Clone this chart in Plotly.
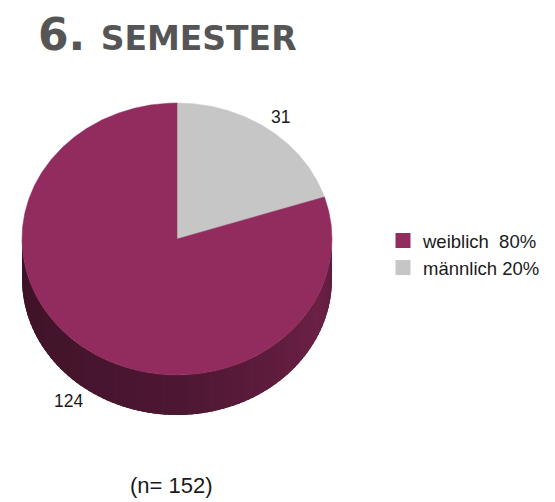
import numpy as np
import plotly.graph_objects as go

# ---- data ----
labels = ["weiblich", "männlich"]
counts = [124, 31]
shares = [80, 20]          # percent shown in the legend
spacers = ["  ", " "]      # legend spacing between name and percent
colors = ["#922c5e", "#c6c6c6"]
n_total = 152
title_num = "6."
title_word = "SEMESTER"

# ---- geometry of the tilted pie (pixel space) ----
W, H = 555, 502
CX, CY = 177, 239
RX, RY = 155, 136
DEPTH = 40


def rim(theta):
    """Point on the top ellipse; theta in degrees clockwise from 12 o'clock."""
    t = np.radians(theta)
    return CX + RX * np.sin(t), CY - RY * np.cos(t)


def hex_to_rgb(h):
    h = h.lstrip("#")
    return tuple(int(h[i:i + 2], 16) for i in (0, 2, 4))


def shade(hexcol, f):
    r, g, b = hex_to_rgb(hexcol)
    return "rgb(%d,%d,%d)" % (min(255, r * f), min(255, g * f), min(255, b * f))


# slice angles: last category starts at 12 o'clock, going clockwise
total = sum(counts)
order = list(range(len(counts)))[::-1]
spans = {}
start = 0.0
for i in order:
    sweep = 360.0 * counts[i] / total
    spans[i] = (start, start + sweep)
    start += sweep

fig = go.Figure()

# ---- visible side wall (front half of the cylinder) ----
# drawn as overlapping bands so neighbouring shades blend smoothly
light_ang = [90, 115, 180, 270]
light_fac = [0.62, 0.74, 0.53, 0.42]
steps = np.linspace(90, 270, 91)
for a0, a1 in zip(steps[:-1], steps[1:]):
    mid = 0.5 * (a0 + a1)
    owner = next(i for i in spans if spans[i][0] <= mid % 360 < spans[i][1])
    col = shade(colors[owner], np.interp(mid, light_ang, light_fac))
    ang = np.linspace(a0, min(270, a1 + 3), 6)
    xs, ys = rim(ang)
    px = np.concatenate([xs, xs[::-1]])
    py = np.concatenate([ys, ys[::-1] + DEPTH])
    fig.add_trace(go.Scatter(x=px, y=py, mode="lines", fill="toself",
                             fillcolor=col, line=dict(width=0),
                             hoverinfo="skip", showlegend=False))

# ---- top face slices ----
for i in order:
    a0, a1 = spans[i]
    ang = np.linspace(a0, a1, max(8, int(a1 - a0) * 2))
    xs, ys = rim(ang)
    px = np.concatenate([[CX], xs, [CX]])
    py = np.concatenate([[CY], ys, [CY]])
    fig.add_trace(go.Scatter(x=px, y=py, mode="lines", fill="toself",
                             fillcolor=colors[i], line=dict(color=colors[i], width=0.5),
                             hoverinfo="text", text=f"{labels[i]}: {counts[i]}",
                             showlegend=False))

# ---- value labels outside each slice ----
for i in order:
    a0, a1 = spans[i]
    mid = 0.5 * (a0 + a1)
    t = np.radians(mid)
    lx = CX + RX * 1.01 * np.sin(t)
    ly = CY - RY * 1.11 * np.cos(t)
    if np.cos(t) < 0:
        ly += DEPTH
    fig.add_annotation(x=lx, y=ly, text=str(counts[i]), showarrow=False,
                       xanchor="left" if np.sin(t) >= 0 else "right",
                       font=dict(family="Liberation Sans, Arial", size=17.5, color="#1a1a1a"))

# ---- legend entries ----
for i in range(len(labels)):
    fig.add_trace(go.Scatter(x=[None], y=[None], mode="markers",
                             marker=dict(symbol="square", size=15, color=colors[i]),
                             name=f"{labels[i]}{spacers[i]}{shares[i]}%"))

# ---- title and sample size ----
fig.add_annotation(x=36, y=34, xanchor="left", yanchor="middle", showarrow=False,
                   text=f"<b>{title_num} <span style='font-size:33px'>{title_word}</span></b>",
                   font=dict(family="DejaVu Sans", size=44, color="#555555"))
fig.add_annotation(x=171, y=485, showarrow=False, text=f"(n= {n_total})",
                   font=dict(family="Liberation Sans, Arial", size=22, color="#1a1a1a"))

fig.update_layout(
    width=W, height=H,
    margin=dict(l=0, r=0, t=0, b=0),
    paper_bgcolor="white", plot_bgcolor="white",
    xaxis=dict(range=[0, W], visible=False, fixedrange=True),
    yaxis=dict(range=[H, 0], visible=False, fixedrange=True),
    legend=dict(x=383 / W, y=1 - 222 / H, xanchor="left", yanchor="top",
                bgcolor="rgba(0,0,0,0)", itemsizing="trace",
                font=dict(family="Liberation Sans, Arial", size=18.5, color="#1a1a1a")),
    showlegend=True,
)

fig.write_html("out.html")
